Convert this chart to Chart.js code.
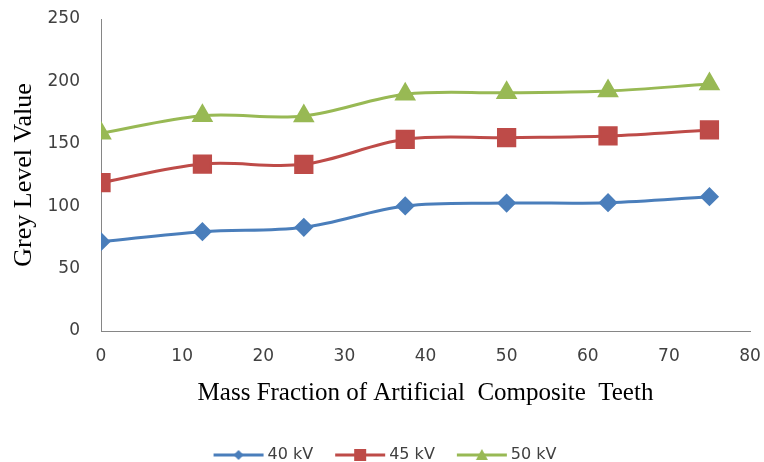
<!DOCTYPE html>
<html>
<head>
<meta charset="utf-8">
<script src="https://cdn.jsdelivr.net/npm/chart.js@4/dist/chart.umd.min.js"></script>
<style>
  html, body { margin: 0; padding: 0; background: #fff; }
  #wrap { width: 764px; height: 462px; }
</style>
</head>
<body>
<div id="wrap"><canvas id="grafico"></canvas></div>
<script>
// dados
var fracaoMassa = [0, 12.5, 25, 37.5, 50, 62.5, 75];
var kv40 = [71.6, 79.6, 83.1, 100.2, 102.5, 102.8, 107.6];
var kv45 = [118.8, 133.8, 133.6, 153.6, 154.9, 156.3, 161.1];
var kv50 = [158.4, 172.5, 172.3, 189.7, 190.9, 192.3, 197.9];
var nomesSeries = ["40 kV", "45 kV", "50 kV"];

var azul = "#4a7ebb";
var vermelho = "#be4b48";
var verde = "#98b954";

function pontos(valores) {
  return fracaoMassa.map((x, i) => ({ x: x, y: valores[i] }));
}

// icone da legenda: espaco + linha + marcador (mais largo que a caixa para encostar no texto)
function iconeLegenda(cor, forma) {
  var c = document.createElement("canvas");
  c.width = 78;
  c.height = 16;
  var g = c.getContext("2d");
  g.strokeStyle = cor;
  g.fillStyle = cor;
  g.lineWidth = 3;
  g.beginPath();
  g.moveTo(26, 8);
  g.lineTo(76, 8);
  g.stroke();
  g.beginPath();
  var cx = 51;
  if (forma == "diamante") {
    g.moveTo(cx, 3); g.lineTo(cx + 5, 8); g.lineTo(cx, 13); g.lineTo(cx - 5, 8);
  } else if (forma == "quadrado") {
    g.rect(cx - 6, 2, 12, 12);
  } else {
    g.moveTo(cx, 2); g.lineTo(cx + 6, 13); g.lineTo(cx - 6, 13);
  }
  g.closePath();
  g.fill();
  return c;
}

var icones = [
  iconeLegenda(azul, "diamante"),
  iconeLegenda(vermelho, "quadrado"),
  iconeLegenda(verde, "triangulo"),
];

const ctx = document.getElementById("grafico");

const grafico = new Chart(ctx, {
  type: "line",
  data: {
    datasets: [
      {
        label: nomesSeries[0],
        data: pontos(kv40),
        borderColor: azul,
        backgroundColor: azul,
        pointStyle: "rectRot",
        pointRadius: 7.5,
        borderWidth: 3,
      },
      {
        label: nomesSeries[1],
        data: pontos(kv45),
        borderColor: vermelho,
        backgroundColor: vermelho,
        pointStyle: "rect",
        pointRadius: 11.5,
        borderWidth: 3,
      },
      {
        label: nomesSeries[2],
        data: pontos(kv50),
        borderColor: verde,
        backgroundColor: verde,
        pointStyle: "triangle",
        pointRadius: 9.5,
        borderWidth: 3,
      },
    ],
  },
  options: {
    responsive: true,
    maintainAspectRatio: false,
    animation: false,
    layout: { autoPadding: false, padding: { left: 0, right: 14, top: 19, bottom: -11 } },
    elements: {
      line: { tension: 0.35 },
      point: { borderWidth: 0, hoverRadius: 8 },
    },
    plugins: {
      tooltip: { enabled: false },
      legend: {
        position: "bottom",
        labels: {
          usePointStyle: true,
          pointStyleWidth: 66,
          boxHeight: 16,
          padding: 2,
          color: "#404040",
          font: { family: "DejaVu Sans", size: 16, lineHeight: 1 },
          generateLabels: function (chart) {
            var itens = Chart.defaults.plugins.legend.labels.generateLabels(chart);
            itens.forEach((item, i) => { item.pointStyle = icones[i]; });
            return itens;
          },
        },
      },
    },
    scales: {
      x: {
        type: "linear",
        min: 0,
        max: 80,
        grid: { display: false, drawTicks: false },
        border: { color: "#868686", width: 1 },
        ticks: {
          stepSize: 10,
          padding: 15,
          color: "#404040",
          font: { family: "DejaVu Sans", size: 17 },
        },
        title: {
          display: true,
          text: "Mass Fraction of Artificial  Composite  Teeth",
          color: "#000",
          font: { family: "Liberation Serif", size: 25 },
          padding: { top: 0, bottom: 37 },
        },
        afterFit: function (escala) {
          escala.height = 114;
          escala.paddingLeft = 0;
          escala.paddingRight = 0;
        },
      },
      y: {
        min: 0,
        max: 250,
        grid: { display: false, drawTicks: false },
        border: { color: "#868686", width: 1 },
        ticks: {
          stepSize: 50,
          padding: 21,
          color: "#404040",
          font: { family: "DejaVu Sans", size: 17 },
        },
        title: {
          display: true,
          text: "Grey Level Value",
          color: "#000",
          font: { family: "Liberation Serif", size: 26 },
          padding: { top: 9, bottom: 0 },
        },
        afterFit: function (escala) {
          escala.width = 101;
          escala.paddingTop = 0;
          escala.paddingBottom = 0;
        },
      },
    },
  },
});
</script>
</body>
</html>
